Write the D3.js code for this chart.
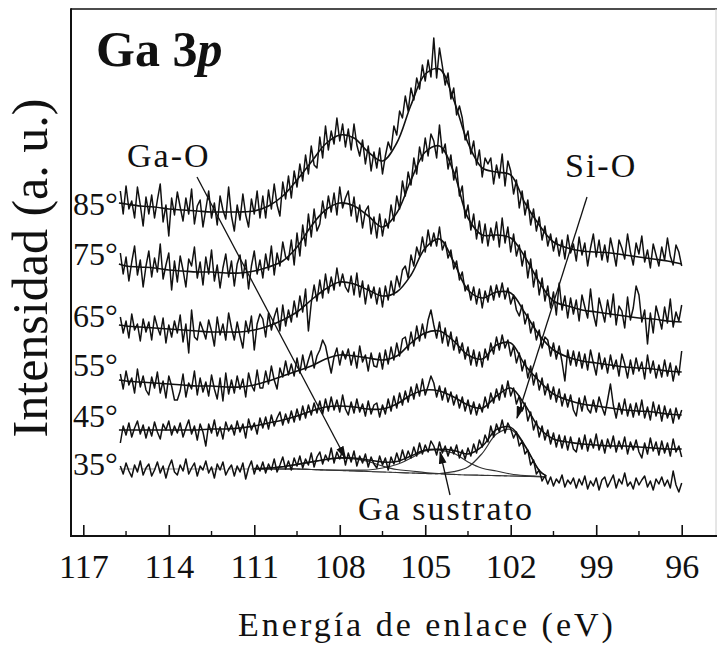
<!DOCTYPE html>
<html>
<head>
<meta charset="utf-8">
<script src="https://cdn.jsdelivr.net/npm/d3@7"></script>
</head>
<body style="margin:0">
<svg id="chart" width="717" height="646" font-family="Liberation Serif"></svg>
<script>
// ---- Ga 3p spectra, take-off angles 85° .. 35° (stacked, a.u.) ----
const angleLabels = ["85°", "75°", "65°", "55°", "45°", "35°"];

const xTicks = [117, 114, 111, 108, 105, 102, 99, 96];
const xMinorTicks = [115.5, 112.5, 109.5, 106.5, 103.5, 100.5, 97.5];

// fitted envelopes, sampled every 0.5 eV
const fitEnergy = [115.75, 115.5, 115, 114.5, 114, 113.5, 113, 112.5, 112, 111.5, 111, 110.5, 110, 109.5, 109, 108.5, 108, 107.5, 107, 106.5, 106, 105.5, 105, 104.5, 104, 103.5, 103, 102.5, 102, 101.5, 101, 100.5, 100, 99.5, 99, 98.5, 98, 97.5, 97, 96.5, 96];
const fit85 = [333, 332, 330, 329, 327, 326, 325, 324, 324, 324, 325, 330, 340, 356, 374, 392, 401, 398, 384, 375, 393, 431, 462, 467, 436, 393, 368, 364, 361, 333, 311, 294, 288, 285, 284, 283, 281, 279, 277, 275, 272];
const fit75 = [272, 270, 269, 268, 266, 265, 264, 264, 263, 263, 265, 269, 275, 289, 310, 326, 333, 330, 320, 309, 323, 356, 384, 390, 364, 318, 301, 301, 298, 279, 254, 235, 230, 226, 224, 222, 220, 218, 217, 215, 214];
const fit65 = [211, 210, 209, 208, 207, 206, 205, 204, 204, 204, 206, 210, 216, 224, 236, 247, 254, 252, 246, 240, 244, 261, 288, 297, 274, 246, 238, 244, 243, 223, 201, 186, 179, 175, 173, 171, 169, 168, 167, 165, 164];
const fit55 = [156, 155, 154, 153, 152, 151, 150, 150, 149, 149, 151, 155, 160, 165, 170, 177, 181, 180, 178, 176, 180, 193, 203, 205, 195, 181, 177, 191, 193, 171, 155, 142, 136, 132, 130, 128, 126, 125, 124, 122, 121];
const fit45 = [106, 106, 106, 106, 106, 106, 106, 107, 107, 108, 110, 113, 116, 120, 125, 129, 130, 129, 127, 127, 132, 141, 146, 145, 139, 131, 128, 140, 148, 131, 108, 97, 94, 92, 91, 90, 90, 89, 88, 87, 87];

// 35°: peak decomposition (Ga-O, Ga substrate, Si-O) on a Shirley-type background
const fit35Energy = [115.75, 111, 110.5, 110, 109.5, 109, 108.5, 108, 107.5, 107, 106.5, 106, 105.5, 105, 104.5, 104, 103.5, 103, 102.5, 102, 101.5, 101, 100.75];
const background35 = [67, 67, 67, 67, 67, 66.5, 66, 65.5, 65, 64.5, 64, 63.5, 63, 62.5, 62, 61.5, 61, 60.7, 60.4, 60, 59.7, 59.4, 59];
const gaO35 = [67, 67.4, 68, 69.3, 71.6, 74.1, 76.5, 77.8, 77.1, 74.5, 70, 66.5, 65, 63.3, 62.3, 61.6, 61, 60.7, 60.4, 60, 59.7, 59.4, 59];
const gaSub35 = [67, 67, 67, 67, 67, 66.5, 66, 65.9, 65.8, 66, 68, 71.5, 78, 85.2, 85.9, 82.7, 74, 67.7, 65, 62, 60.4, 59.6, 59.1];
const siO35 = [67, 67, 67, 67, 67, 66.5, 66, 65.5, 65, 64.5, 64, 63.5, 63, 62.5, 62.5, 64.3, 69, 82.7, 101.9, 106.6, 89.7, 65.4, 60];
const envelope35 = [67, 67.4, 68, 69.3, 71.6, 74.1, 76.5, 78.2, 77.9, 76, 74, 74.5, 80, 86, 86.7, 85.6, 82, 89.7, 106.5, 108.6, 90.4, 65.6, 60.1];

// measured counts, one channel every 0.1 eV from 115.7 eV down to 96.0 eV
const channelEnergy = d3.range(198).map(i => +(115.7 - 0.1 * i).toFixed(1));
const counts85 = [
  345,322,350,327,335,318,349,331,310,339, 322,341,318,336,352,314,331,300,338,321,
  344,329,315,338,322,347,312,330,336,309, 327,345,318,333,311,340,326,317,349,320,
  305,331,316,342,321,309,337,322,345,318, 340,318,346,327,352,331,320,354,337,360,
  338,365,349,372,355,381,362,390,371,368, 399,378,410,386,405,392,418,395,412,389,
  407,386,412,391,380,396,372,390,365,384, 368,388,362,380,394,386,410,401,425,418,
  440,425,448,436,458,447,471,455,476,459, 498,458,488,470,451,463,437,448,421,430,
  418,396,405,382,395,371,386,359,378,372, 378,352,371,358,382,350,375,365,342,356,
  328,345,321,336,311,327,305,319,296,310, 290,302,285,298,280,296,277,301,283,292,
  275,299,281,293,270,288,302,279,296,276, 291,274,298,285,270,296,288,277,302,284,
  271,293,282,300,274,286,268,292,281,270, 289,276,298,280,271,291,284,270];
const counts75 = [
  283,262,279,255,274,290,261,276,249,270, 285,259,278,264,292,257,271,283,246,275,
  254,280,266,249,277,270,289,258,274,251, 279,262,286,255,271,248,268,282,259,275,
  250,272,281,258,276,247,270,285,262,276, 258,282,266,290,261,283,270,294,279,276,
  296,271,303,280,311,290,322,299,327,305, 312,335,318,340,324,343,321,349,328,338,
  345,320,339,314,331,308,325,330,302,319, 298,322,300,317,308,331,315,340,327,355,
  340,364,351,378,362,389,375,398,380,402, 395,378,411,383,392,367,381,356,369,340,
  350,318,331,306,322,297,315,293,312,290, 308,296,314,289,318,293,309,284,302,280,
  291,270,285,258,277,249,266,241,258,235, 250,228,244,221,253,226,240,218,238,222,
  236,215,241,229,218,247,222,210,238,226, 214,236,219,242,211,230,225,208,239,216,
  228,250,241,214,226,192,223,203,230,219, 207,229,213,237,209,224,215,231];
const counts65 = [
  219,203,215,198,222,206,212,195,217,204, 214,196,220,209,201,218,193,211,199,215,
  203,221,194,212,183,226,199,196,214,206, 197,216,205,190,219,201,212,196,223,208,
  196,214,200,188,215,203,220,186,212,222, 217,199,223,206,219,228,205,231,210,226,
  214,235,219,240,224,247,205,233,251,235, 256,238,262,243,259,246,268,250,262,249,
  244,260,241,263,239,255,232,251,238,249, 232,248,229,250,236,255,241,260,249,266,
  270,258,281,270,289,280,299,284,306,290, 303,290,309,286,294,278,286,267,275,256,
  264,245,251,236,249,232,247,228,245,234, 250,236,251,239,253,237,248,232,241,226,
  220,231,212,222,203,214,196,206,188,199, 196,180,193,177,190,174,155,186,171,185,
  170,184,168,182,166,186,173,161,183,167, 178,163,181,167,176,160,182,172,158,176,
  162,178,165,174,157,181,163,175,158,171, 159,176,160,173,155,170,161,185];
const counts55 = [
  162,147,165,151,158,143,167,149,160,146, 141,159,148,164,143,155,138,160,150,136,
  136,145,162,139,153,147,165,141,158,144, 154,140,161,147,137,158,135,163,142,156,
  143,160,147,157,139,163,151,145,166,148, 148,165,152,170,156,147,168,159,175,161,
  172,160,178,163,181,166,176,185,168,180, 186,196,190,176,163,179,188,171,185,177,
  187,171,184,168,190,174,181,165,183,170, 169,183,167,186,172,189,176,193,180,197,
  199,186,204,190,210,195,212,198,216,226, 211,198,214,193,208,190,204,186,199,183,
  193,177,189,171,186,170,184,169,187,176, 193,182,199,186,201,188,196,180,190,173,
  183,165,176,158,170,151,163,146,158,141, 152,137,149,134,147,130,142,129,141,126,
  120,138,125,140,127,123,136,124,139,129, 121,136,152,131,118,133,122,137,120,132,
  119,133,121,136,118,129,116,134,120,131, 115,130,118,127,113,128,117,126];
const counts45 = [
  93,110,101,113,99,108,115,102,111,98, 109,100,114,104,97,112,106,115,101,110,
  103,113,99,108,116,102,110,96,112,104, 90,112,103,116,100,109,97,114,105,111,
  101,115,104,112,98,117,106,113,102,118, 108,119,107,121,110,118,124,111,122,113,
  125,114,127,116,130,118,131,121,133,123, 135,122,137,125,139,126,136,124,141,127,
  121,134,123,137,124,132,120,135,122,131, 133,119,131,122,137,125,140,128,143,131,
  145,134,149,137,152,140,157,141,150,160, 153,139,150,136,148,134,144,131,141,128,
  139,125,136,122,134,121,132,124,139,128, 143,133,147,136,151,139,155,140,148,132,
  140,125,133,115,124,106,115,99,110,96, 106,92,103,89,101,88,100,86,99,87,
  84,98,87,101,85,97,88,102,86,96, 83,97,88,100,84,95,87,99,82,94,
  86,96,84,78,93,82,98,85,94,81, 95,83,93,80,97,84,90,79];
const counts35 = [
  70,62,73,65,59,71,64,75,61,68, 72,60,66,74,63,70,58,69,76,64,
  61,71,65,77,62,68,73,60,70,66, 75,63,69,58,72,66,74,61,67,71,
  60,70,64,73,57,68,75,62,71,65, 74,63,72,66,77,64,71,79,67,75,
  66,78,70,80,68,77,71,83,69,79, 84,72,81,75,88,73,84,77,86,71,
  83,74,85,70,80,73,82,69,79,72, 68,80,71,78,66,79,72,83,74,86,
  76,85,78,89,80,93,82,91,84,95, 90,81,94,83,90,80,89,82,91,78,
  86,77,88,80,92,83,96,89,101,94, 110,99,112,104,116,103,113,107,98,104,
  90,95,82,86,71,76,62,66,55,60, 52,59,50,57,53,61,49,56,52,58,
  48,57,51,60,47,55,50,58,46,56, 59,49,55,61,48,57,52,63,50,54,
  47,58,51,56,60,49,55,46,57,52, 59,50,56,48,65,51,44,53];

const spectraCounts = [counts85, counts75, counts65, counts55, counts45, counts35];
const spectraFits = [fit85, fit75, fit65, fit55, fit45];

// annotations: label and the (energy, intensity) its arrow points at
const annotationText = ["Ga-O", "Si-O", "Ga sustrato"];
const annotationTipEnergy = [107.8, 101.78, 104.48];
const annotationTipValue = [78, 118, 84];

// ---- layout ----
const FONT = '"Liberation Serif", "Nimbus Roman", "FreeSerif", "Noto Serif", serif';
const svg = d3.select("#chart");
const frame = { left: 71, top: 9, right: 716, bottom: 536 };
const x = d3.scaleLinear().domain([117, 96]).range([83.3, 681.7]);
const y = d3.scaleLinear().domain([0, 527]).range([536, 9]);

const angleLabelY = [215, 265, 327, 376, 427, 475];
const annotationTextPos = [[127, 167], [565, 177], [358, 520]];
const annotationTailPos = [[197, 177], [587, 197], [450, 495]];

function addText(sel, size) {
  return sel.append("text").attr("font-size", size).attr("fill", "#111");
}

// frame
svg.append("line").attr("x1", frame.left).attr("x2", frame.right + 2)
  .attr("y1", frame.top).attr("y2", frame.top)
  .attr("stroke", "#111").attr("stroke-width", 1.6);
svg.append("line").attr("x1", frame.right).attr("x2", frame.right)
  .attr("y1", frame.top).attr("y2", frame.bottom)
  .attr("stroke", "#ccc").attr("stroke-width", 1);
svg.append("line").attr("x1", frame.left).attr("x2", frame.left)
  .attr("y1", frame.top - 0.8).attr("y2", frame.bottom + 1)
  .attr("stroke", "#111").attr("stroke-width", 2);
svg.append("line").attr("x1", frame.left - 1).attr("x2", 717)
  .attr("y1", frame.bottom).attr("y2", frame.bottom)
  .attr("stroke", "#111").attr("stroke-width", 2);

// x axis (ticks point inwards)
const axis = svg.append("g").attr("transform", `translate(0,${frame.bottom})`)
  .call(d3.axisBottom(x).tickValues(xTicks).tickFormat(d3.format("d"))
    .tickSizeInner(-11).tickSizeOuter(0));
axis.attr("font-family", null).attr("font-size", null);
axis.select(".domain").remove();
axis.selectAll(".tick line").attr("stroke", "#111").attr("stroke-width", 1.6);
axis.selectAll(".tick text")
  .attr("y", 42).attr("dy", 0)
  .attr("font-size", 34).attr("fill", "#111");

svg.append("g").selectAll("line").data(xMinorTicks).join("line")
  .attr("x1", d => x(d)).attr("x2", d => x(d))
  .attr("y1", frame.bottom).attr("y2", frame.bottom - 5)
  .attr("stroke", "#111").attr("stroke-width", 1.4);

// axis titles
addText(svg, 34).attr("x", 427).attr("y", 636).attr("text-anchor", "middle")
  .attr("letter-spacing", 3).text("Energía de enlace (eV)");
addText(svg, 50).attr("transform", "translate(47,268) rotate(-90)")
  .attr("text-anchor", "middle").text("Intensidad (a. u.)");

// panel title
const title = addText(svg, 50).attr("x", 96).attr("y", 66).attr("font-weight", "bold");
title.append("tspan").text("Ga 3");
title.append("tspan").attr("font-style", "italic").text("p");

// spectra
const lineCounts = d3.line().x((d, i) => x(channelEnergy[i])).y(d => y(d));
const lineFit = d3.line().x((d, i) => x(fitEnergy[i])).y(d => y(d)).curve(d3.curveCatmullRom.alpha(0.5));
const line35 = d3.line().x(d => x(d[0])).y(d => y(d[1])).curve(d3.curveCatmullRom.alpha(0.5));

const plot = svg.append("g");

// 35° background and components
plot.append("path").attr("d", line35(fit35Energy.map((e, i) => [e, background35[i]])))
  .attr("fill", "none").attr("stroke", "#8a8a8a").attr("stroke-width", 1.2)
  .attr("stroke-dasharray", "14,3,3,3");
[gaO35, gaSub35, siO35].forEach(comp => {
  plot.append("path").attr("d", line35(fit35Energy.map((e, i) => [e, comp[i]]).filter(d => d[0] <= 111)))
    .attr("fill", "none").attr("stroke", "#333").attr("stroke-width", 1.2);
});

spectraCounts.forEach(c => {
  plot.append("path").attr("d", lineCounts(c))
    .attr("fill", "none").attr("stroke", "#111").attr("stroke-width", 1.5)
    .attr("stroke-linejoin", "round");
});
spectraFits.forEach(f => {
  plot.append("path").attr("d", lineFit(f))
    .attr("fill", "none").attr("stroke", "#111").attr("stroke-width", 1.6);
});
plot.append("path").attr("d", line35(fit35Energy.map((e, i) => [e, envelope35[i]]).filter(d => d[0] <= 111)))
  .attr("fill", "none").attr("stroke", "#111").attr("stroke-width", 1.5);

// angle labels
angleLabels.forEach((lab, i) => {
  addText(svg, 32).attr("x", 73).attr("y", angleLabelY[i]).text(lab);
});

// annotations with arrows
svg.append("defs").append("marker")
  .attr("id", "tip").attr("viewBox", "0 0 10 10").attr("refX", 9).attr("refY", 5)
  .attr("markerWidth", 13).attr("markerHeight", 13).attr("markerUnits", "userSpaceOnUse")
  .attr("orient", "auto")
  .append("path").attr("d", "M0,2 L10,5 L0,8 Z").attr("fill", "#111");

annotationText.forEach((t, i) => {
  svg.append("line")
    .attr("x1", annotationTailPos[i][0]).attr("y1", annotationTailPos[i][1])
    .attr("x2", x(annotationTipEnergy[i])).attr("y2", y(annotationTipValue[i]))
    .attr("stroke", "#111").attr("stroke-width", 1.3).attr("marker-end", "url(#tip)");
  addText(svg, 34).attr("x", annotationTextPos[i][0]).attr("y", annotationTextPos[i][1])
    .attr("letter-spacing", 2).text(t);
});

// serif face for every label
svg.selectAll("text").attr("font-family", FONT);
</script>
</body>
</html>
